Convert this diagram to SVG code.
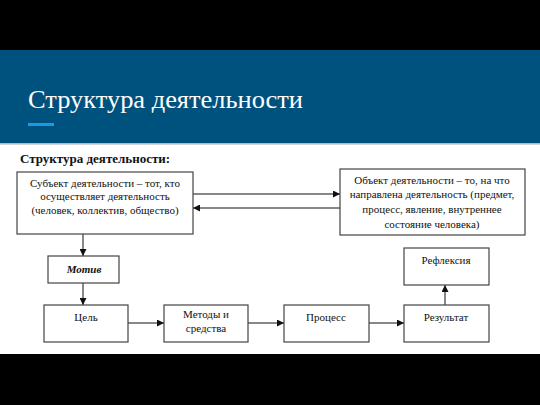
<svg xmlns="http://www.w3.org/2000/svg" width="540" height="405" viewBox="0 0 540 405">
<defs>
<style>
.box{fill:#fff;stroke:#444;stroke-width:1.2}
.ln{stroke:#111;stroke-width:1;fill:none}
</style>
<marker id="ah" viewBox="0 0 10 10" refX="10" refY="5" markerWidth="7" markerHeight="7" markerUnits="userSpaceOnUse" orient="auto"><path d="M0,0 L10,5 L0,10 z" fill="#111"/></marker>
</defs>
<rect x="0" y="0" width="540" height="405" fill="#000"/>
<rect x="0" y="50" width="540" height="94" fill="#00527e"/>
<rect x="0" y="143" width="540" height="1.2" fill="#8cc7e0"/>
<rect x="0" y="144.2" width="540" height="209.8" fill="#fff"/>
<text x="28" y="108" font-family="Liberation Serif" font-size="25" fill="#fff" textLength="275" lengthAdjust="spacingAndGlyphs">Структура деятельности</text>
<rect x="28" y="123" width="26" height="3" fill="#1a9be0"/>
<text x="20" y="163" font-family="Liberation Serif" font-size="13" font-weight="bold" fill="#111">Структура деятельности:</text>
<g id="connectors">
<line class="ln" x1="193" y1="194" x2="340" y2="194" stroke-width="2" marker-end="url(#ah)"/>
<line class="ln" x1="340" y1="208" x2="193" y2="208" marker-end="url(#ah)"/>
<line class="ln" x1="83" y1="234" x2="83" y2="256" marker-end="url(#ah)"/>
<line class="ln" x1="83" y1="283" x2="83" y2="305" marker-end="url(#ah)"/>
<line class="ln" x1="128" y1="323" x2="164" y2="323" marker-end="url(#ah)"/>
<line class="ln" x1="248" y1="323" x2="284" y2="323" marker-end="url(#ah)"/>
<line class="ln" x1="369" y1="323" x2="404" y2="323" marker-end="url(#ah)"/>
<line class="ln" x1="445" y1="305" x2="445" y2="285" marker-end="url(#ah)"/>
</g>
<g font-family="Liberation Serif" font-size="11" fill="#111" text-anchor="middle">
<g id="subject">
<rect class="box" x="17" y="172" width="176" height="62"/>
<text x="105" y="187">Субъект деятельности – тот, кто</text>
<text x="105" y="200">осуществляет деятельность</text>
<text x="105" y="214">(человек, коллектив, общество)</text>
</g>
<g id="object">
<rect class="box" x="340" y="169" width="185" height="66"/>
<text x="432" y="184">Объект деятельности – то, на что</text>
<text x="432" y="198">направлена деятельность (предмет,</text>
<text x="432" y="213">процесс, явление, внутреннее</text>
<text x="432" y="228">состояние человека)</text>
</g>
<g id="motiv">
<rect class="box" x="48" y="256" width="71" height="27"/>
<text x="84" y="273" font-weight="bold" font-style="italic">Мотив</text>
</g>
<g id="goal">
<rect class="box" x="44" y="305" width="84" height="37"/>
<text x="86" y="321">Цель</text>
</g>
<g id="methods">
<rect class="box" x="164" y="305" width="84" height="37"/>
<text x="206" y="318">Методы и</text>
<text x="206" y="332">средства</text>
</g>
<g id="process">
<rect class="box" x="284" y="305" width="85" height="37"/>
<text x="326" y="321">Процесс</text>
</g>
<g id="result">
<rect class="box" x="404" y="305" width="85" height="37"/>
<text x="446" y="321">Результат</text>
</g>
<g id="reflexia">
<rect class="box" x="404" y="248" width="85" height="37"/>
<text x="446" y="264">Рефлексия</text>
</g>
</g>
</svg>
